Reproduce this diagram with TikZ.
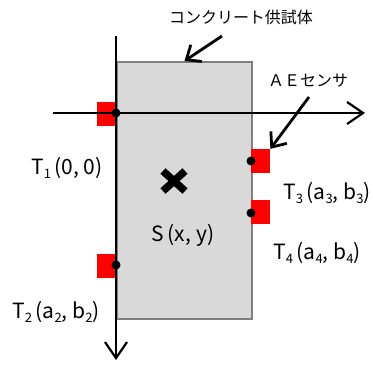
\documentclass[tikz,border=0pt]{standalone}
\usepackage{fontspec}
\setmainfont{Noto Sans CJK JP}
\usepackage{tikz}
\usetikzlibrary{arrows.meta,positioning,calc}
\tikzset{
  specimen/.style={draw=black!50,fill=black!15,line width=2pt,inner sep=0pt},
  sensorpad/.style={fill=red,minimum width=19pt,minimum height=24pt,inner sep=0pt},
  contactdot/.style={circle,fill=black,inner sep=0pt,minimum size=9pt},
  axisarrow/.style={-{Straight Barb[length=16pt,width=22pt]},line width=2.2pt},
  pointerarrow/.style={-{Straight Barb[length=12pt,width=20pt]},line width=2.8pt},
  pointlabel/.style={font=\fontsize{21}{21}\selectfont,inner sep=0pt},
  notelabel/.style={font=\fontsize{16}{16}\selectfont,inner sep=0pt}
}
\newcommand{\idx}[1]{\raisebox{-0.4ex}{\fontsize{13}{13}\selectfont #1}}

\begin{document}
\begin{tikzpicture}[x=1pt,y=-1pt]
  \useasboundingbox (0,0) rectangle (373,365);
  % specimen and sensors
  \node[specimen,minimum width=135pt,minimum height=257pt,anchor=north west] (spec) at (116,61) {};
  \node[sensorpad,anchor=east] (pad1) at (116,114) {};
  \node[sensorpad,anchor=east] (pad2) at (116,266) {};
  \node[sensorpad,anchor=west] (pad3) at (251,161) {};
  \node[sensorpad,anchor=west] (pad4) at (251,212) {};
  % axes
  \coordinate (ytop) at (116,36);
  \coordinate (yend) at (116,360);
  \coordinate (xleft) at (53,113);
  \coordinate (xend) at (365,113);
  \draw[axisarrow] (ytop) -- (yend);
  \draw[axisarrow] (xleft) -- (xend);
  % contact points
  \node[contactdot] (t1) at (116,113) {};
  \node[contactdot] (t2) at (116,265) {};
  \node[contactdot] (t3) at (251,161) {};
  \node[contactdot] (t4) at (251,213) {};
  % source
  \coordinate (src) at (174,181);
  \draw[line width=7.5pt] ($(src)+(-11,-10)$) -- ($(src)+(11,10)$);
  \draw[line width=7.5pt] ($(src)+(-11,10)$) -- ($(src)+(11,-10)$);
  \node[pointlabel] (slabel) at (183,235) {S\,(x, y)};
  % labels
  \node[pointlabel] (l1) at (67,168) {T\idx{1}\,(0, 0)};
  \node[pointlabel] (l2) at (56,312) {T\idx{2}\,(a\idx{2}, b\idx{2})};
  \node[pointlabel] (l3) at (327,193) {T\idx{3}\,(a\idx{3}, b\idx{3})};
  \node[pointlabel] (l4) at (317,253) {T\idx{4}\,(a\idx{4}, b\idx{4})};
  \node[notelabel] (specnote) at (241,17) {コンクリート供試体};
  \node[notelabel] (aenote) at (308,81) {ＡＥセンサ};
  \coordinate (specfrom) at (222,36);
  \coordinate (aefrom) at (309,97);
  \draw[pointerarrow] (specfrom) -- (spec.north);
  \draw[pointerarrow] (aefrom) -- (pad3.north east);
\end{tikzpicture}
\end{document}
